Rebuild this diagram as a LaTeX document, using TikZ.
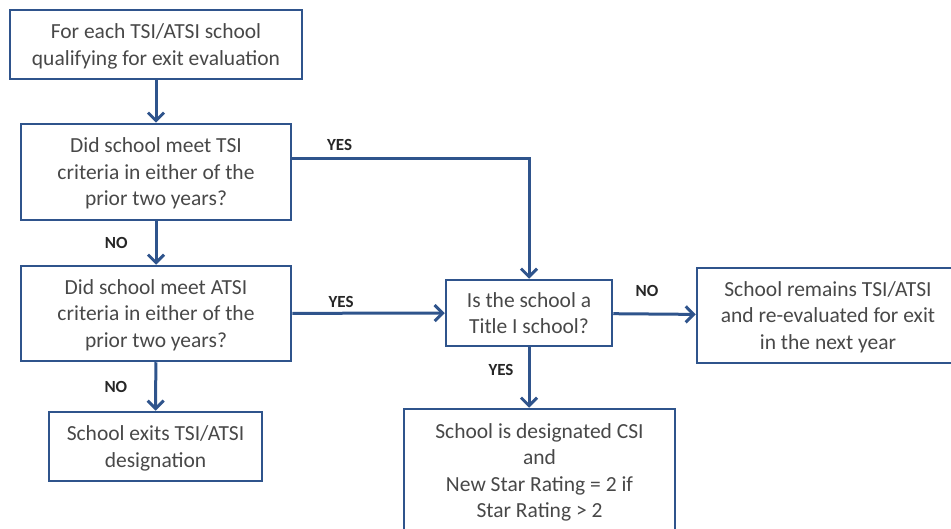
\documentclass[tikz,border=0pt]{standalone}
\usepackage{fontspec}
\setmainfont{Carlito}
\usetikzlibrary{arrows.meta}
\definecolor{boxblue}{RGB}{47,84,140}
\definecolor{boxtext}{RGB}{72,72,72}
\begin{document}
\begin{tikzpicture}[x=1pt, y=-1pt, >={Straight Barb[length=8pt,width=16pt]},
    box/.style={draw=boxblue, line width=2.5pt, text=boxtext, align=center, inner sep=0pt,
        text depth=0pt, font=\fontsize{21.5}{26.5}\selectfont},
    flow/.style={->, draw=boxblue, line width=3pt},
    answer/.style={inner sep=0pt, text=black!85, font=\bfseries\fontsize{17}{19}\selectfont}]
    \useasboundingbox (0,0) rectangle (951,529);

    % Nodes
    \node[box, minimum width=292pt, minimum height=69pt] at (156, 44.5) (start) {For each TSI/ATSI school\\qualifying for exit evaluation};
    \node[box, minimum width=270pt, minimum height=96pt] at (156, 172) (tsi) {Did school meet TSI\\criteria in either of the\\prior two years?};
    \node[box, minimum width=270pt, minimum height=95pt] at (156, 313.5) (atsi) {Did school meet ATSI\\criteria in either of the\\prior two years?};
    \node[box, minimum width=213pt, minimum height=69pt] at (155.5, 446.5) (exits) {School exits TSI/ATSI\\designation};
    \node[box, minimum width=166pt, minimum height=66pt] at (529, 313) (title) {Is the school a\\Title I school?};
    \node[box, minimum width=262pt, minimum height=95pt] at (828, 315.5) (remains) {School remains TSI/ATSI\\and re-evaluated for exit\\in the next year};
    \node[box, minimum width=271pt, minimum height=123pt] at (539.5, 470.5) (csi) {School is designated CSI\\and\\New Star Rating = 2 if\\Star Rating > 2};

    % Edges
    \draw[flow] (start) -- (tsi);

    \draw[flow] ([yshift=13pt]tsi.east) -| (title)
        node[answer, pos=0.1, above=7pt] {YES};

    \draw[flow] (tsi) -- (atsi)
        node[answer, midway, left=27pt] {NO};

    \draw[flow] (atsi) -- (title)
        node[answer, pos=0.32, above=4pt] {YES};

    \draw[flow] (atsi) -- (exits)
        node[answer, midway, left=27pt] {NO};

    \draw[flow] (title) -- (remains)
        node[answer, pos=0.41, above=16pt] {NO};

    \draw[flow] (title) -- (title.south |- csi.north)
        node[answer, pos=0.38, left=14pt] {YES};
\end{tikzpicture}
\end{document}
